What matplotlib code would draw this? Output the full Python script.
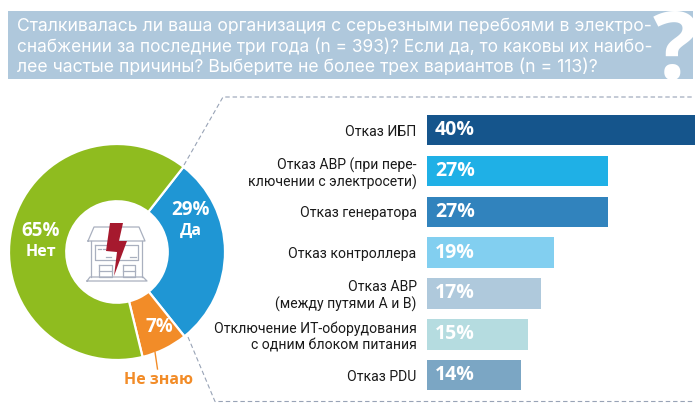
import matplotlib
matplotlib.use("Agg")
import matplotlib.pyplot as plt
from matplotlib.patches import Polygon, Rectangle

### survey data
pie_labels = ["Да", "Не знаю", "Нет"]
pie_values = [29, 7, 65]
pie_colors = ["#1f96d4", "#f28c28", "#8fbc1f"]

bar_labels = ["Отказ ИБП", "Отказ АВР (при пере-\nключении с электросети)", "Отказ генератора",
              "Отказ контроллера", "Отказ АВР\n(между путями А и В)",
              "Отключение ИТ-оборудования\nс одним блоком питания", "Отказ PDU"]
bar_values = [40, 27, 27, 19, 17, 15, 14]
bar_colors = ["#15558c", "#1fb0e6", "#3183bd", "#82cff0", "#afc9dc", "#b5dce0", "#7ba6c4"]

title_lines = ["Сталкивалась ли ваша организация с серьезными перебоями в электро-",
               "снабжении за последние три года (n = 393)? Если да, то каковы их наибо-",
               "лее частые причины? Выберите не более трех вариантов (n = 113)?"]
title_sizes = [12.7, 12.45, 12.7]

W, H = 700, 413
plt.rcParams['font.family'] = ['Open Sans', 'DejaVu Sans']

fig = plt.figure(figsize=(W / 100, H / 100), dpi=100, facecolor="white")


def box(left, top, right, bottom):
    return [left / W, 1 - bottom / H, (right - left) / W, (bottom - top) / H]


### pixel layer for banner, dashes and icon
bg = fig.add_axes([0, 0, 1, 1], zorder=1)
bg.set_xlim(0, W)
bg.set_ylim(H, 0)
bg.axis("off")

bg.add_patch(Rectangle((8, 11), 685, 68, color="#afc8dc", lw=0))
bg.text(675, 79, "?", color="white", fontsize=68, fontweight="bold", ha="center", va="baseline")
for i, line in enumerate(title_lines):
    bg.text(17, 27 + i * 20.3, line, color="white", fontsize=title_sizes[i], va="center", family="Inter")

dash = dict(color="#98a3b6", lw=0.8, ls=(0, (4, 2.6)))
bg.plot([184, 223, 693], [165, 97, 97], **dash)
bg.plot([188, 215, 693], [337, 401.5, 401.5], **dash)

### donut
pie_ax = fig.add_axes(box(9, 144, 225, 360), zorder=2)
pie_ax.pie(pie_values, colors=pie_colors, startangle=52, counterclock=False, radius=1,
           wedgeprops=dict(width=0.53, edgecolor="white", linewidth=1.6))
pie_ax.set_xlim(-1, 1)
pie_ax.set_ylim(-1, 1)

### bars
bar_ax = fig.add_axes(box(427, 109.6, 695, 395.6), zorder=2)
pos = list(range(len(bar_values)))
bar_ax.barh(pos, bar_values, height=0.745, color=bar_colors)
bar_ax.set_xlim(0, 40)
bar_ax.set_ylim(6.5, -0.5)
for s in bar_ax.spines.values():
    s.set_visible(False)
bar_ax.patch.set_alpha(0)
bar_ax.set_xticks([])
bar_ax.set_yticks(pos)
bar_ax.set_yticklabels(bar_labels, fontsize=10.1, color="#1a1a1a", linespacing=1.2, family="Roboto")
bar_ax.tick_params(axis="y", length=0, pad=7.5)
for p, v in zip(pos, bar_values):
    bar_ax.text(1.2, p, str(v) + "%", color="white", fontsize=14, fontweight="bold", va="center")

### overlay for donut labels and icon
top = fig.add_axes([0, 0, 1, 1], zorder=3)
top.set_xlim(0, W)
top.set_ylim(H, 0)
top.axis("off")
top.patch.set_alpha(0)

lab = dict(color="white", fontweight="bold", ha="center", va="center")
top.text(41, 231, "65%", fontsize=13.5, **lab)
top.text(41, 252, pie_labels[2], fontsize=11.5, **lab)
top.text(191, 210, "29%", fontsize=13.5, **lab)
top.text(191, 231, pie_labels[0], fontsize=11.5, **lab)
top.text(159, 327, "7%", fontsize=13.5, **lab)
top.plot([155, 157.5], [352, 369], color="#f28c28", lw=1)
top.text(158, 380, pie_labels[1], fontsize=11.5, color="#f28c28", fontweight="bold", ha="center", va="center")

# house
g = dict(color="#a9b0bf", lw=0.9)
top.plot([88, 94, 139, 145, 88], [241, 227, 227, 241, 241], **g)
top.plot([91, 91], [241, 277], **g)
top.plot([142, 142], [241, 277], **g)
top.plot([87, 147, 143, 90, 87], [281, 281, 277, 277, 281], **g)
top.plot([95, 138, 138, 95, 95], [245, 245, 260, 260, 245], **g)
top.plot([99, 112, 112, 99, 99], [265, 265, 277, 277, 265], **g)
top.plot([123, 135, 135, 123, 123], [265, 265, 277, 277, 265], **g)
top.plot([99, 112], [271, 271], **g)
top.plot([123, 135], [271, 271], **g)
top.plot([98, 101], [249, 249], **g)
top.plot([103, 105], [249, 249], **g)
top.plot([106, 111], [257, 257], **g)
top.plot([130, 136], [257, 257], **g)
top.add_patch(Polygon([(110, 223), (123, 223), (119, 241), (127, 241), (114, 276), (117, 252), (106, 251)],
                      closed=True, color="#a6192e", lw=0, zorder=5))

fig.savefig("out.png", dpi=100)
